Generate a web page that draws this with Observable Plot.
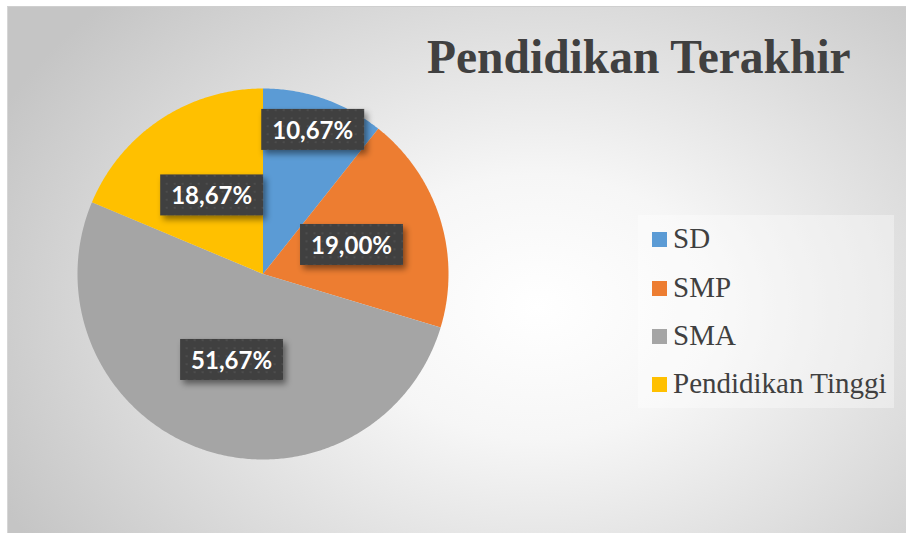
<!DOCTYPE html>
<html>
<head>
<meta charset="utf-8">
<script src="https://cdn.jsdelivr.net/npm/d3@7"></script>
<script src="https://cdn.jsdelivr.net/npm/@observablehq/plot@0.6"></script>
<style>
  html, body { margin: 0; padding: 0; background: #ffffff; width: 906px; height: 533px; overflow: hidden; }
  #chart {
    position: absolute; left: 7px; top: 6px; width: 905px; height: 530px;
    border-top: 1px solid #cfcfcf; border-left: 1px solid #d6d6d6;
    background: radial-gradient(ellipse 600px 440px at 530px 300px, #ffffff 0%, #f6f6f6 30%, #c5c5c5 100%);
  }
  #plot { position: absolute; left: 0; top: 0; }
  #title {
    position: absolute; left: 427px; top: 33px; white-space: nowrap;
    font-family: "Liberation Serif", "Times New Roman", serif; font-weight: bold;
    font-size: 47.5px; line-height: 48px; color: #404040;
  }
  #legend {
    position: absolute; left: 638px; top: 215px; width: 256px; height: 193px;
    background: rgba(255,255,255,0.35);
  }
  .item { position: absolute; left: 14px; height: 30px; white-space: nowrap;
    font-family: "Liberation Serif", "Times New Roman", serif; font-size: 29px; line-height: 30px; color: #404040; }
  .sw { display: inline-block; width: 15px; height: 15px; margin-right: 6px; vertical-align: 1px; }
</style>
</head>
<body>
<div id="plot"></div>
<script>
// ---- data ----
const categories = ["SD", "SMP", "SMA", "Pendidikan Tinggi"];
const values = [10.67, 19.00, 51.67, 18.67];
const labels = ["10,67%", "19,00%", "51,67%", "18,67%"];
const colors = ["#5B9BD5", "#ED7D31", "#A5A5A5", "#FFC000"];
const title = "Pendidikan Terakhir";

// ---- layout ----
const W = 906, H = 533;
const cx = 262.5, cy = 273.5, R = 185.5;
const labelRadius = [0.815, 0.5, 0.5, 0.5];

// build slices (unit circle, angle from 12 o'clock, clockwise)
const total = d3.sum(values);
const slices = [];
const labelPts = [];
let acc = 0;
values.forEach((v, i) => {
  const a0 = acc / total * 2 * Math.PI;
  const a1 = (acc + v) / total * 2 * Math.PI;
  acc += v;
  slices.push({cat: categories[i], x: 0, y: 0});
  const n = Math.max(2, Math.ceil((a1 - a0) / 0.01));
  for (let k = 0; k <= n; k++) {
    const a = a0 + (a1 - a0) * k / n;
    slices.push({cat: categories[i], x: Math.sin(a), y: Math.cos(a)});
  }
  const am = (a0 + a1) / 2;
  labelPts.push({label: labels[i], x: labelRadius[i] * Math.sin(am), y: labelRadius[i] * Math.cos(am)});
});

const chart = Plot.plot({
  width: W, height: H,
  margin: 0,
  style: {background: "transparent", overflow: "visible"},
  x: {domain: [-1, 1], range: [cx - R, cx + R], axis: null},
  y: {domain: [-1, 1], range: [cy + R, cy - R], axis: null},
  color: {domain: categories, range: colors},
  marks: [
    Plot.line(slices, {x: "x", y: "y", z: "cat", fill: "cat", stroke: "none", curve: "linear-closed"}),
    Plot.text(labelPts, {x: "x", y: "y", text: "label", fill: "white",
      fontSize: 24, fontWeight: "bold", fontFamily: "Lato, 'Open Sans', sans-serif"})
  ]
});

const wrap = document.createElement("div");
wrap.id = "chart";
document.body.insertBefore(wrap, document.getElementById("plot"));
document.getElementById("plot").appendChild(chart);

// title
const t = document.createElement("div");
t.id = "title"; t.textContent = title;
document.body.appendChild(t);

// legend
const lg = document.createElement("div");
lg.id = "legend";
categories.forEach((c, i) => {
  const it = document.createElement("div");
  it.className = "item";
  it.style.top = (8.2 + i * 48.3) + "px";
  const sw = document.createElement("span");
  sw.className = "sw"; sw.style.background = colors[i];
  it.appendChild(sw);
  it.appendChild(document.createTextNode(c));
  lg.appendChild(it);
});
document.body.appendChild(lg);

// label boxes with dotted texture and shadow
const svgEl = chart.tagName.toLowerCase() === "svg" ? chart : chart.querySelector("svg");
const svg = d3.select(svgEl);
const defs = svg.insert("defs", ":first-child");
const pat = defs.append("pattern").attr("id", "dots").attr("width", 8).attr("height", 8).attr("patternUnits", "userSpaceOnUse");
pat.append("rect").attr("width", 8).attr("height", 8).attr("fill", "#404040");
pat.append("rect").attr("x", 2).attr("y", 2).attr("width", 2).attr("height", 2).attr("fill", "#4d4d4d");
const flt = defs.append("filter").attr("id", "shadow").attr("x", "-20%").attr("y", "-20%").attr("width", "150%").attr("height", "170%");
flt.append("feDropShadow").attr("dx", 3).attr("dy", 4).attr("stdDeviation", 3).attr("flood-color", "#000").attr("flood-opacity", 0.45);
svg.selectAll("text").each(function() {
  const bb = this.getBBox();
  const w = Math.max(96, bb.width + 22), h = 41;
  const mx = bb.x + bb.width / 2, my = bb.y + bb.height / 2;
  const g = this.parentNode;
  const r = d3.select(g).insert("rect", () => this)
    .attr("x", mx - w / 2).attr("y", my - h / 2).attr("width", w).attr("height", h)
    .attr("fill", "url(#dots)").attr("filter", "url(#shadow)");
  const tr = this.getAttribute("transform");
  if (tr) r.attr("transform", tr);
});
</script>
</body>
</html>
